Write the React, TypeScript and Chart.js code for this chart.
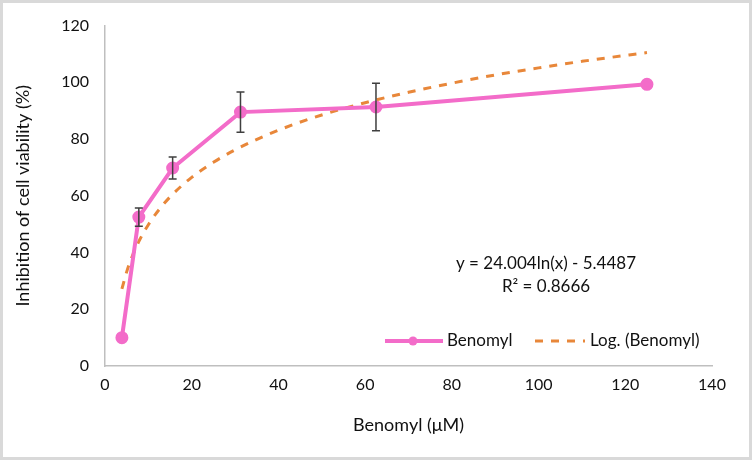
import React, { useEffect, useRef } from "react";
import { Chart, registerables } from "chart.js";

Chart.register(...registerables);

// Data
const concentrations = [3.9, 7.8, 15.6, 31.25, 62.5, 125];
const inhibition = [10, 52.5, 69.8, 89.5, 91.3, 99.3];
const errors = [0.5, 3.2, 3.9, 7.1, 8.4, 1.0];

const trendX = [3.9, 5, 6, 8, 10, 12, 15, 20, 25, 30, 40, 50, 60, 70, 80, 90, 100, 110, 125];
const trendY = [27.2, 33.2, 37.6, 44.5, 49.8, 54.2, 59.6, 66.5, 71.8, 76.2, 83.1, 88.5, 92.8, 96.5, 99.7, 102.6, 105.1, 107.4, 110.5];

const xTicks = [0, 20, 40, 60, 80, 100, 120, 140];
const yTicks = [0, 20, 40, 60, 80, 100, 120];

const seriesName = "Benomyl";
const trendName = "Log. (Benomyl)";
const equationText = "y = 24.004ln(x) - 5.4487";
const r2Text = "R² = 0.8666";
const xTitle = "Benomyl (μM)";
const yTitle = "Inhibition of cell viability (%)";

const PINK = "#F36CC9";
const ORANGE = "#E8873A";
const FONT = "Lato, 'Open Sans', sans-serif";

export default function App() {
  const ref = useRef<HTMLCanvasElement | null>(null);

  useEffect(() => {
    const canvas = ref.current;
    if (!canvas) return;

    const extras = {
      id: "extras",
      afterDatasetsDraw(chart: any) {
        const ctx = chart.ctx;
        const xs = chart.scales.x;
        const ys = chart.scales.y;
        ctx.save();
        ctx.strokeStyle = "#3f3f3f";
        ctx.lineWidth = 1.5;
        concentrations.forEach((c, i) => {
          const e = errors[i];
          if (e < 1.5) return;
          const px = xs.getPixelForValue(c);
          const top = ys.getPixelForValue(inhibition[i] + e);
          const bot = ys.getPixelForValue(inhibition[i] - e);
          ctx.beginPath();
          ctx.moveTo(px, top);
          ctx.lineTo(px, bot);
          ctx.moveTo(px - 4, top);
          ctx.lineTo(px + 4, top);
          ctx.moveTo(px - 4, bot);
          ctx.lineTo(px + 4, bot);
          ctx.stroke();
        });
        ctx.restore();
      },
      afterDraw(chart: any) {
        const ctx = chart.ctx;
        ctx.save();
        ctx.fillStyle = "#111";
        ctx.font = `17px ${FONT}`;
        ctx.textAlign = "center";
        ctx.textBaseline = "middle";
        ctx.fillText(equationText, 546, 264);
        ctx.fillText(r2Text, 546, 287);

        // legend
        const ly = 341;
        ctx.strokeStyle = PINK;
        ctx.lineWidth = 4;
        ctx.beginPath();
        ctx.moveTo(385, ly);
        ctx.lineTo(443, ly);
        ctx.stroke();
        ctx.fillStyle = PINK;
        ctx.beginPath();
        ctx.arc(413, ly, 4.5, 0, Math.PI * 2);
        ctx.fill();
        ctx.fillStyle = "#111";
        ctx.textAlign = "left";
        ctx.fillText(seriesName, 447, ly);

        ctx.strokeStyle = ORANGE;
        ctx.lineWidth = 3;
        ctx.setLineDash([8, 8]);
        ctx.beginPath();
        ctx.moveTo(535, ly);
        ctx.lineTo(585, ly);
        ctx.stroke();
        ctx.setLineDash([]);
        ctx.fillText(trendName, 590, ly);

        // frame
        ctx.strokeStyle = "#d9d9d9";
        ctx.lineWidth = 3;
        ctx.strokeRect(1.5, 1.5, chart.width - 3, chart.height - 3);
        ctx.restore();
      },
    };

    const chart = new Chart(canvas, {
      type: "scatter",
      data: {
        datasets: [
          {
            label: trendName,
            data: trendX.map((x, i) => ({ x, y: trendY[i] })),
            showLine: true,
            borderColor: ORANGE,
            borderWidth: 3,
            borderDash: [8, 8],
            pointRadius: 0,
            cubicInterpolationMode: "monotone",
            order: 2,
          },
          {
            label: seriesName,
            data: concentrations.map((x, i) => ({ x, y: inhibition[i] })),
            showLine: true,
            borderColor: PINK,
            backgroundColor: PINK,
            borderWidth: 4,
            pointRadius: 4.5,
            pointBackgroundColor: PINK,
            pointBorderColor: PINK,
            tension: 0,
            order: 1,
          },
        ],
      },
      options: {
        animation: false,
        responsive: false,
        maintainAspectRatio: false,
        layout: { padding: { left: 12, right: 40, top: 25, bottom: 24 } },
        plugins: {
          legend: { display: false },
          tooltip: { enabled: false },
        },
        scales: {
          x: {
            type: "linear",
            min: 0,
            max: 140,
            afterBuildTicks: (s: any) => {
              s.ticks = xTicks.map((v) => ({ value: v }));
            },
            afterFit: (s: any) => {
              s.height = 70;
            },
            grid: { display: false, drawTicks: false },
            border: { display: true, color: "#bfbfbf", width: 1.5 },
            ticks: {
              color: "#111",
              padding: 9,
              font: { family: FONT, size: 16 },
            },
            title: {
              display: true,
              text: xTitle,
              color: "#111",
              font: { family: FONT, size: 18 },
              padding: { top: 12, bottom: 0 },
            },
          },
          y: {
            type: "linear",
            min: 0,
            max: 120,
            afterBuildTicks: (s: any) => {
              s.ticks = yTicks.map((v) => ({ value: v }));
            },
            afterFit: (s: any) => {
              s.width = 93;
            },
            grid: { display: false, drawTicks: false },
            border: { display: true, color: "#bfbfbf", width: 1.5 },
            ticks: {
              color: "#111",
              padding: 16,
              font: { family: FONT, size: 16 },
            },
            title: {
              display: true,
              text: yTitle,
              color: "#111",
              font: { family: FONT, size: 18 },
              padding: { top: 0, bottom: 10 },
            },
          },
        },
      },
      plugins: [extras],
    });

    return () => chart.destroy();
  }, []);

  return (
    <div style={{ position: "fixed", left: 0, top: 0, width: 752, height: 460, background: "#fff" }}>
      <canvas ref={ref} width={752} height={460} style={{ width: 752, height: 460, display: "block" }} />
    </div>
  );
}
